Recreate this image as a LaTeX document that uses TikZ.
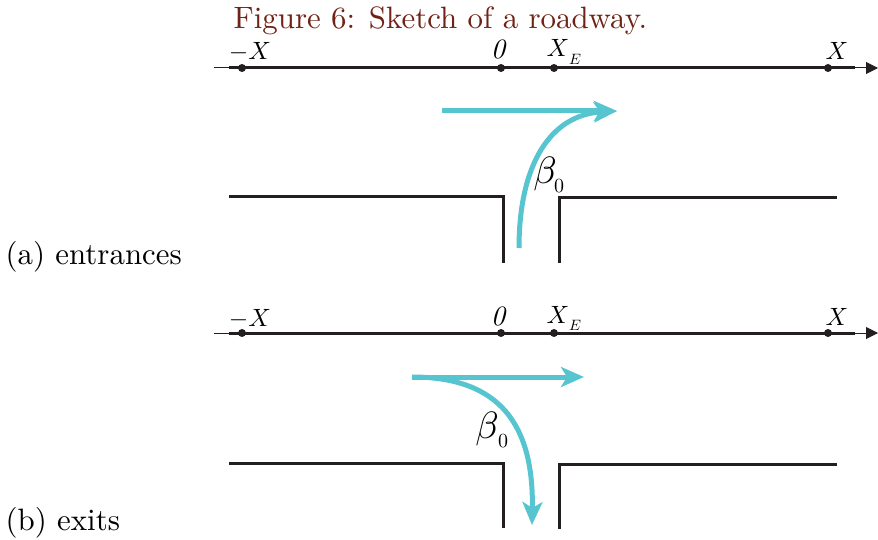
\documentclass[tikz,border=0pt]{standalone}
\usepackage{tikz}
\usetikzlibrary{arrows.meta}
\definecolor{roadblack}{RGB}{35,31,32}
\definecolor{lanecyan}{RGB}{86,197,208}
\definecolor{captionred}{RGB}{110,35,22}

\begin{document}
\begin{tikzpicture}[x=1pt,y=-1pt,
  axisline/.style={roadblack, line width=3pt},
  axisthin/.style={roadblack, line width=1pt, -{Stealth[length=12pt,width=12pt,inset=0pt]}},
  road/.style={roadblack, line width=3pt},
  lane/.style={lanecyan, line width=5pt, -{Stealth[length=23pt,width=20pt,inset=6pt]}},
  tick/.style={circle, fill=roadblack, inner sep=0pt, minimum size=8pt},
  xlabel/.style={scale=2.5, inner sep=0pt, anchor=base, text=black},
  originlabel/.style={scale=2.8, font=\itshape, inner sep=0pt, anchor=base, text=black},
  sublabel/.style={scale=1.5, inner sep=0pt, anchor=base, text=black},
  betalabel/.style={scale=3.8, inner sep=0pt, anchor=base, text=black},
  zerolabel/.style={scale=2, inner sep=0pt, anchor=base, text=black},
  txt/.style={scale=3.09, inner sep=0pt, anchor=base west}
]
  \useasboundingbox (0,0) rectangle (878,540);
  \node[txt, text=captionred] (caption) at (233,29) {Figure 6: Sketch of a roadway.};
  % (a) entrances
  \coordinate (lefta) at (214,68);
  \coordinate (righta) at (878,68);
  \draw[axisthin] (lefta) -- (righta);
  \draw[axisline] (229,68) -- (855,68);
  \node[tick] (ma) at (242,68) {};
  \node[tick] (oa) at (501,68) {};
  \node[tick] (ea) at (554,68) {};
  \node[tick] (pa) at (828,68) {};
  \node[xlabel] (lma) at (250,60) {${-}X$};
  \node[originlabel] (loa) at (498,59) {0};
  \node[xlabel] (lea) at (558,57) {$X$};
  \node[sublabel] (sea) at (575,65) {$E$};
  \node[xlabel] (lpa) at (837,60) {$X$};
  \draw[road] (229,197) -- (503,197) -- (503,263);
  \draw[road] (559,263) -- (559,198) -- (837,198);
  \coordinate (sa) at (442,111);
  \coordinate (ta) at (617,111);
  \coordinate (ua) at (519,248);
  \draw[lane] (sa) -- (ta);
  \draw[lane] (ua) .. controls (519,165) and (550,115) .. (ta);
  \node[betalabel] (ba) at (545,184) {$\beta$};
  \node[zerolabel] (za) at (559,193) {0};
  \node[txt] (capa) at (5,264) {(a) entrances};
  % (b) exits
  \coordinate (leftb) at (214,333);
  \coordinate (rightb) at (878,333);
  \draw[axisthin] (leftb) -- (rightb);
  \draw[axisline] (229,333) -- (855,333);
  \node[tick] (mb) at (242,333) {};
  \node[tick] (ob) at (501,333) {};
  \node[tick] (eb) at (554,333) {};
  \node[tick] (pb) at (828,333) {};
  \node[xlabel] (lmb) at (250,326) {${-}X$};
  \node[originlabel] (lob) at (498,325) {0};
  \node[xlabel] (leb) at (558,323) {$X$};
  \node[sublabel] (seb) at (575,330) {$E$};
  \node[xlabel] (lpb) at (837,325) {$X$};
  \draw[road] (229,463) -- (503,463) -- (503,528);
  \draw[road] (559,529) -- (559,464) -- (837,464);
  \coordinate (sb) at (412,377);
  \coordinate (tb) at (584,377);
  \coordinate (ub) at (532,525);
  \draw[lane] (sb) -- (tb);
  \draw[lane] (sb) .. controls (500,377) and (534,425) .. (ub);
  \node[betalabel] (bb) at (487,438) {$\beta$};
  \node[zerolabel] (zb) at (503,447) {0};
  \node[txt] (capb) at (5,530) {(b) exits};
\end{tikzpicture}
\end{document}
